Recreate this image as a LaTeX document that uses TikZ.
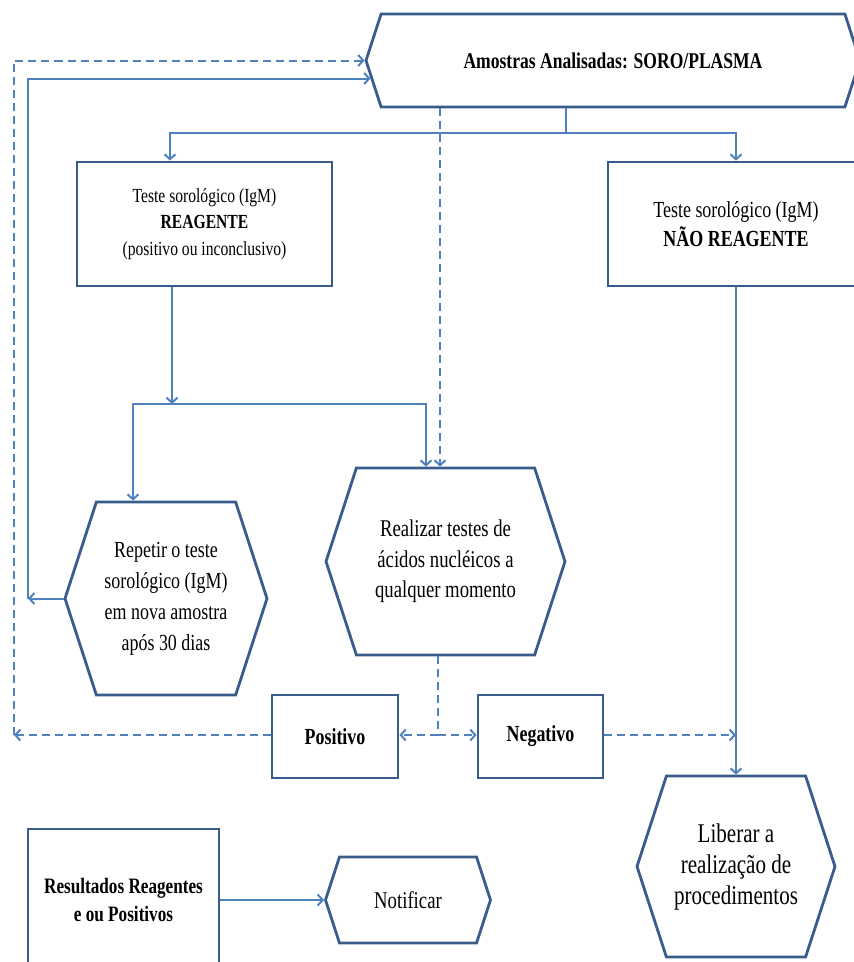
\documentclass[tikz,border=0pt]{standalone}
\usepackage{fontspec}
\setmainfont{Liberation Serif}[FakeStretch=0.78]
\usepackage{tikz}
\usetikzlibrary{arrows,arrows.meta,shapes,positioning}
\definecolor{contorno}{RGB}{56,93,138}
\definecolor{seta}{RGB}{79,129,189}
\tikzset{
caixa/.style={draw=contorno, line width=2.8pt, fill=white, inner sep=2pt, align=center}, % retangulos
hexa/.style={caixa, signal, signal to=west and east, signal pointer angle=144}, % hexagonos
ligacao/.style={draw=seta, line width=2pt}, % setas cheias
tracejada/.style={ligacao, dash pattern=on 8pt off 5pt}, % setas tracejadas
>={Straight Barb[length=5pt,width=11pt]}
}

\begin{document}
\begin{tikzpicture}[x=1pt, y=-1pt]
        \useasboundingbox (0,0) rectangle (854,962);
        % caixas
        \node[hexa, minimum width=494, minimum height=93, font=\fontsize{22.5}{28}\selectfont\bfseries] (amo) at (613,60.5) {Amostras Analisadas: SORO/PLASMA};
        \node[caixa, minimum width=255, minimum height=124, font=\fontsize{20}{26.5}\selectfont] (reag) at (204.5,224) {Teste sorológico (IgM)\\\textbf{REAGENTE}\\(positivo ou inconclusivo)};
        \node[caixa, minimum width=256, minimum height=124, font=\fontsize{23}{29}\selectfont] (nreag) at (736,224) {Teste sorológico (IgM)\\\textbf{NÃO REAGENTE}};
        \node[hexa, minimum width=202, minimum height=193, font=\fontsize{23}{31}\selectfont] (rep) at (166,598.5) {Repetir o teste\\sorológico (IgM)\\em nova amostra\\após 30 dias};
        \node[hexa, minimum width=239, minimum height=187, font=\fontsize{24}{30.5}\selectfont] (real) at (445.5,561.5) {Realizar testes de\\ácidos nucléicos a\\qualquer momento};
        \node[caixa, minimum width=126, minimum height=83, font=\fontsize{23}{28}\selectfont\bfseries] (pos) at (335,736.5) {Positivo};
        \node[caixa, minimum width=125, minimum height=83, font=\fontsize{23}{28}\selectfont\bfseries] (neg) at (540.5,736.5) {Negativo};
        \node[hexa, minimum width=198, minimum height=181, font=\fontsize{27}{31}\selectfont] (lib) at (736,866.5) {Liberar a\\realização de\\procedimentos};
        \node[caixa, minimum width=191, minimum height=142, font=\fontsize{22}{28}\selectfont\bfseries] (res) at (123.5,900) {Resultados Reagentes\\e ou Positivos};
        \node[hexa, minimum width=165, minimum height=86, font=\fontsize{24}{28}\selectfont] (notif) at (408,900) {Notificar};
        % pontos de desvio
        \coordinate (split1) at (566,133);
        \coordinate (split2) at (172,404);
        \coordinate (split3) at (438,735);
        \coordinate (volta1) at (14,735);
        \coordinate (volta2) at (28,598.5);
        % setas cheias
        \draw[ligacao] (amo.south -| split1) -- (split1);
        \draw[ligacao,->] (split1) -| ([xshift=-34.5pt]reag.north);
        \draw[ligacao,->] (split1) -| (nreag.north);
        \draw[ligacao,->] (reag.south -| split2) -- (split2);
        \draw[ligacao,->] (split2) -| ([xshift=-33pt]rep.north);
        \draw[ligacao,->] (split2) -| ([xshift=-19.5pt]real.north);
        \draw[ligacao,->] (nreag.south) -- (lib.north);
        \draw[ligacao,->] (rep.west) -- (volta2);
        \draw[ligacao,->] (volta2) |- ([xshift=6pt,yshift=-18pt]amo.west);
        \draw[ligacao,->] (res.east) -- (notif.west);
        % setas tracejadas
        \draw[tracejada,->] ([xshift=-173pt]amo.south) -- ([xshift=-5.5pt]real.north);
        \draw[tracejada] (real.south -| split3) -- (split3);
        \draw[tracejada,->] (split3) -- (split3 -| pos.east);
        \draw[tracejada,->] (split3) -- (split3 -| neg.west);
        \draw[tracejada,->] (split3 -| neg.east) -- (split3 -| lib.north);
        \draw[tracejada,->] (split3 -| pos.west) -- (volta1);
        \draw[tracejada,->] (volta1) |- (amo.west);
\end{tikzpicture}
\end{document}
